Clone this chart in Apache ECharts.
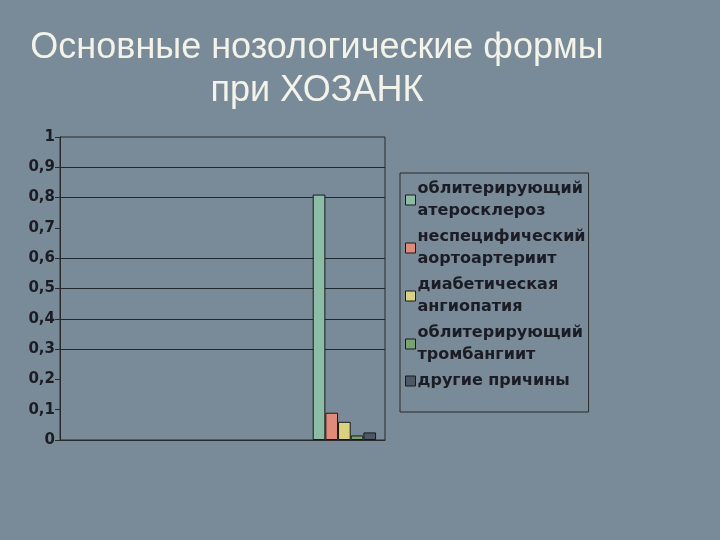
<!DOCTYPE html>
<html>
<head>
<meta charset="utf-8">
<script src="https://cdn.jsdelivr.net/npm/echarts@6/dist/echarts.min.js"></script>
<style>
  html, body { margin: 0; padding: 0; background: #798a98; }
  #main { width: 720px; height: 540px; }
</style>
</head>
<body>
<div id="main"></div>
<script>
var categories = ['', '', '', ''];
var seriesNames = [
  'облитерирующий\nатеросклероз',
  'неспецифический\nаортоартериит',
  'диабетическая\nангиопатия',
  'облитерирующий\nтромбангиит',
  'другие причины'
];
var seriesValues = [0.81, 0.09, 0.06, 0.015, 0.025];
var seriesColors = ['#8cbca6', '#e08a7c', '#d9d27e', '#78a274', '#4c5864'];
// gridlines that are visible in the picture
var gridValues = [0.3, 0.4, 0.5, 0.6, 0.8, 0.9];

var myChart = echarts.init(document.getElementById('main'));

var series = seriesNames.map(function (name, i) {
  var data = categories.map(function (c, j) {
    return j === categories.length - 1 ? seriesValues[i] : null;
  });
  var s = {
    name: name,
    type: 'bar',
    barGap: 0,
    barCategoryGap: '22%',
    itemStyle: { color: seriesColors[i], borderColor: '#1a1a1a', borderWidth: 1 },
    data: data
  };
  if (i === 0) {
    s.markLine = {
      silent: true,
      symbol: 'none',
      label: { show: false },
      lineStyle: { color: '#1e2830', type: 'solid', width: 1 },
      data: gridValues.map(function (v) { return { yAxis: v }; }),
      z: 0
    };
  }
  return s;
});

var option = {
  backgroundColor: '#798a98',
  title: {
    text: 'Основные нозологические формы\nпри ХОЗАНК',
    left: 312,
    textAlign: 'center',
    top: 22,
    textStyle: {
      fontFamily: 'Liberation Sans',
      fontSize: 36,
      fontWeight: 'normal',
      color: '#f3f3ea',
      lineHeight: 43
    }
  },
  legend: {
    orient: 'vertical',
    left: 400,
    top: 173,
    width: 184,
    padding: [5, 3, 20, 5],
    itemGap: 4,
    itemWidth: 10,
    itemHeight: 10,
    borderColor: '#2a2a2a',
    borderWidth: 1,
    icon: 'rect',
    itemStyle: { borderColor: '#1a1a1a', borderWidth: 1 },
    textStyle: {
      fontFamily: 'DejaVu Sans',
      fontSize: 16,
      fontWeight: 'bold',
      color: '#1c1c24',
      lineHeight: 22,
      padding: [0, 0, 0, -3]
    },
    data: seriesNames
  },
  grid: {
    left: 60, right: 335, top: 137, bottom: 100,
    show: true, borderColor: '#2a2a2a', borderWidth: 1
  },
  xAxis: {
    type: 'category',
    data: categories,
    axisLine: { lineStyle: { color: '#2a2a2a' } },
    axisTick: { lineStyle: { color: '#2a2a2a' } },
    axisLabel: { show: false }
  },
  yAxis: {
    type: 'value',
    min: 0,
    max: 1,
    interval: 0.1,
    axisLine: { show: true, lineStyle: { color: '#2a2a2a' } },
    axisTick: { show: true, lineStyle: { color: '#2a2a2a' } },
    splitLine: { show: false },
    axisLabel: {
      fontFamily: 'DejaVu Sans',
      fontSize: 15,
      fontWeight: 'bold',
      color: '#1c1c24',
      margin: 5,
      formatter: function (v) { return String(Math.round(v * 10) / 10).replace('.', ','); }
    }
  },
  series: series
};

myChart.setOption(option);
</script>
</body>
</html>
